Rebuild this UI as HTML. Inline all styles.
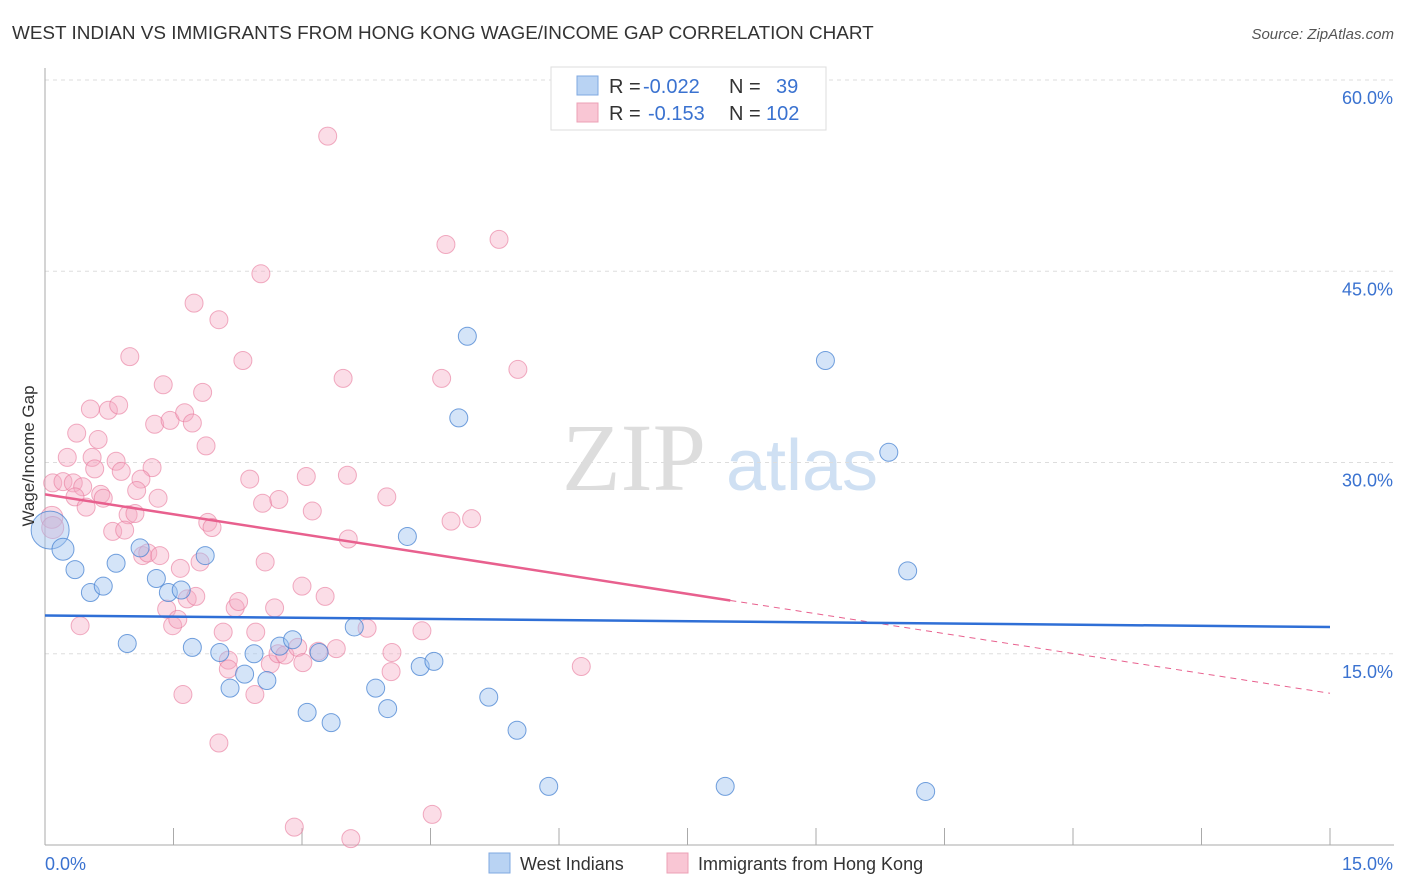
<!DOCTYPE html>
<html><head><meta charset="utf-8"><style>
body{margin:0;background:#fff;font-family:"Liberation Sans",sans-serif}
svg{display:block}
</style></head><body>
<svg id="chart" width="1406" height="892">
<text x="12" y="39" font-size="18.9" fill="#333">WEST INDIAN VS IMMIGRANTS FROM HONG KONG WAGE/INCOME GAP CORRELATION CHART</text>
<text x="1394" y="39" font-size="15" fill="#555" font-style="italic" text-anchor="end">Source: ZipAtlas.com</text>
<g>
<text x="634" y="490" font-size="96" fill="#ddd" font-family="Liberation Serif,serif" text-anchor="middle">ZIP</text>
<text x="802" y="490" font-size="72" fill="#cfe0f3" text-anchor="middle">atlas</text>
</g>
<g id="grid"></g>
<g id="axes"></g>
<g id="marks"></g>
<text x="34" y="456" font-size="17" fill="#333" text-anchor="middle" transform="rotate(-90 34 456)">Wage/Income Gap</text>
<g>
<rect x="551" y="67" width="275" height="63" fill="#fff" stroke="#ddd"/>
<rect x="577" y="76" width="21" height="19" fill="#b9d3f3" stroke="#7fa8e0"/>
<rect x="577" y="103" width="21" height="19" fill="#f9c6d4" stroke="#eca0b6"/>
<text y="93" font-size="20"><tspan x="609" fill="#333">R = </tspan><tspan x="643" fill="#3a72d0">-0.022</tspan><tspan x="729" fill="#333">N = </tspan><tspan x="776" fill="#3a72d0">39</tspan></text>
<text y="120" font-size="20"><tspan x="609" fill="#333">R = </tspan><tspan x="648" fill="#3a72d0">-0.153</tspan><tspan x="729" fill="#333">N = </tspan><tspan x="766" fill="#3a72d0">102</tspan></text>
</g>
<g>
<rect x="489" y="853" width="21" height="20" fill="#b9d3f3" stroke="#7fa8e0"/>
<text x="520" y="870" font-size="18" fill="#333">West Indians</text>
<rect x="667" y="853" width="21" height="20" fill="#f9c6d4" stroke="#eca0b6"/>
<text x="698" y="870" font-size="18" fill="#333">Immigrants from Hong Kong</text>
</g>
</svg>
<script>
const blueX=[0.06,0.21,0.35,0.53,0.68,0.83,0.96,1.11,1.30,1.44,1.59,1.72,1.87,2.04,2.16,2.33,2.44,2.59,2.74,2.89,3.06,3.20,3.34,3.61,3.86,4.00,4.23,4.38,4.54,4.83,4.93,5.18,5.51,5.88,7.94,9.11,9.85,10.07,10.28];
const blueY=[24.7,23.2,21.6,19.8,20.3,22.1,15.8,23.3,20.9,19.8,20.0,15.5,22.7,15.1,12.3,13.4,15.0,12.9,15.6,16.1,10.4,15.1,9.6,17.1,12.3,10.7,24.2,14.0,14.4,33.5,39.9,11.6,9.0,4.6,4.6,38.0,30.8,21.5,4.2];
const pinkX=[0.53,0.74,0.86,0.37,0.62,0.26,0.55,0.58,0.83,0.89,1.25,1.12,1.07,1.32,0.09,0.21,0.33,0.44,0.35,0.48,0.65,0.68,0.97,1.05,0.79,0.93,0.08,0.09,1.14,1.20,1.34,1.58,1.81,1.90,1.95,1.38,1.84,1.28,1.46,1.63,1.72,1.88,2.39,2.54,2.73,3.05,3.12,3.53,3.99,4.74,4.98,3.54,2.57,3.00,3.27,1.66,1.76,1.42,1.49,1.55,0.41,2.22,2.26,2.68,2.08,2.46,2.14,2.14,2.63,2.72,2.80,2.95,3.01,3.19,3.40,3.76,4.05,4.04,4.40,1.61,2.45,3.30,4.68,5.30,2.52,1.74,2.03,0.99,2.31,3.48,4.63,5.52,2.03,2.91,3.57,4.52,6.26];
const pinkY=[34.2,34.1,34.5,32.3,31.8,30.4,30.4,29.5,30.1,29.3,29.6,28.7,27.8,27.2,28.4,28.5,28.4,28.1,27.3,26.5,27.5,27.2,25.9,26.0,24.6,24.7,25.7,24.9,22.7,22.9,22.7,21.7,22.2,25.3,24.9,36.1,35.5,33.0,33.3,33.9,33.1,31.3,28.7,26.8,27.1,28.9,26.2,29.0,27.3,25.4,25.6,24.0,22.2,20.3,19.5,19.3,19.5,18.5,17.2,17.7,17.2,18.6,19.1,18.6,16.7,16.7,14.5,13.8,14.2,15.0,14.9,15.5,14.3,15.2,15.4,17.0,15.1,13.6,16.8,11.8,11.8,55.6,47.1,47.5,44.8,42.5,41.2,38.3,38.0,36.6,36.6,37.3,8.0,1.4,0.5,2.4,14.0];
const blueTrend=[18.0,17.1];
const pinkTrend=[27.5,11.9];
const pinkSolidEnd=8.0;
const yTicks=[15,30,45,60];
const yTickLabels=["15.0%","30.0%","45.0%","60.0%"];
const xTickCount=10;

const NS="http://www.w3.org/2000/svg";
const X0=45,X1=1330,Y0=845,Y60=80;
const sx=v=>X0+(v/15)*(X1-X0);
const sy=v=>Y0-(v/60)*(Y0-Y60);
function mk(tag,attrs,parent){const e=document.createElementNS(NS,tag);for(const k in attrs)e.setAttribute(k,attrs[k]);parent.appendChild(e);return e;}
const grid=document.getElementById('grid'),axes=document.getElementById('axes'),marks=document.getElementById('marks');
yTicks.forEach((t,i)=>{
  const l=mk('line',{x1:X0,x2:1394,y1:sy(t),y2:sy(t),stroke:'#ddd','stroke-dasharray':'4,4'},grid);
  
  
  const tx=mk('text',{x:1393,y:sy(t)+24,'font-size':18,fill:'#3a72d0','text-anchor':'end'},axes);
  tx.textContent=yTickLabels[i];
  
  
});
let a=mk('line',{x1:X0,x2:X0,y1:68,y2:Y0,stroke:'#aaa'},axes);


a=mk('line',{x1:X0,x2:1394,y1:Y0,y2:Y0,stroke:'#aaa'},axes);


for(let i=1;i<=xTickCount;i++){
  const x=sx(15*i/xTickCount);
  const t=mk('line',{x1:x,x2:x,y1:Y0,y2:Y0-17,stroke:'#aaa'},axes);
  
  
}
let xl=mk('text',{x:45,y:870,'font-size':18,fill:'#3a72d0'},axes);xl.textContent='0.0%';


xl=mk('text',{x:1393,y:870,'font-size':18,fill:'#3a72d0','text-anchor':'end'},axes);xl.textContent='15.0%';



pinkX.forEach((x,i)=>{
  const r=(i>=26&&i<=27)?11:9;
  const c=mk('circle',{cx:sx(x),cy:sy(pinkY[i]),r:r,fill:'rgba(246,170,195,0.4)',stroke:'rgba(232,120,155,0.6)','stroke-width':1},marks);
  
  
});
blueX.forEach((x,i)=>{
  const r=i===0?19:(i===1?11:9);
  const c=mk('circle',{cx:sx(x),cy:sy(blueY[i]),r:r,fill:'rgba(160,196,240,0.45)',stroke:'rgba(70,130,210,0.75)','stroke-width':1},marks);
  
  
});
const pAt=v=>pinkTrend[0]+(pinkTrend[1]-pinkTrend[0])*v/15;
let ln=mk('line',{x1:sx(0),y1:sy(pinkTrend[0]),x2:sx(pinkSolidEnd),y2:sy(pAt(pinkSolidEnd)),stroke:'#e8608e','stroke-width':2.5},marks);


ln=mk('line',{x1:sx(pinkSolidEnd),y1:sy(pAt(pinkSolidEnd)),x2:sx(15),y2:sy(pinkTrend[1]),stroke:'#e8608e','stroke-width':1,'stroke-dasharray':'6,5'},marks);


ln=mk('line',{x1:sx(0),y1:sy(blueTrend[0]),x2:sx(15),y2:sy(blueTrend[1]),stroke:'#2f6fd6','stroke-width':2.5},marks);


</script>
</body></html>
